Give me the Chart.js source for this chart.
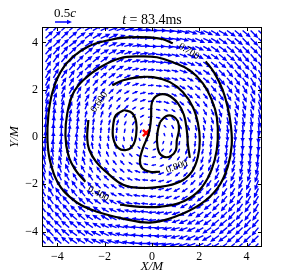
<!DOCTYPE html>
<html>
<head>
<meta charset="utf-8">
<script src="https://cdn.jsdelivr.net/npm/chart.js@4.4.1/dist/chart.umd.min.js"></script>
<style>
  html, body { margin: 0; padding: 0; background: #fff; }
</style>
</head>
<body>
<canvas id="chart" width="293" height="274"></canvas>
<script>
// arrow grid (units of M)
const gridX = [-4.5,-4.17,-3.83,-3.5,-3.17,-2.83,-2.5,-2.17,-1.83,-1.5,-1.17,-0.83,-0.5,-0.17,
               0.17,0.5,0.83,1.17,1.5,1.83,2.17,2.5,2.83,3.17,3.5,3.83,4.17,4.5];
const gridY = [4.5,4.17,3.83,3.5,3.17,2.83,2.5,2.17,1.83,1.5,1.17,0.83,0.5,0.17,
               -0.17,-0.5,-0.83,-1.17,-1.5,-1.83,-2.17,-2.5,-2.83,-3.17,-3.5,-3.83,-4.17,-4.5];

// arrow direction, degrees (0 = +X, 90 = +Y), row by row from the top
const arrowAngle = [
  [45,45,40,40,35,30,30,25,20,20,15,10,5,0,0,-5,-10,-15,-20,-20,-25,-30,-30,-35,-40,-40,-45,-45],
  [45,45,45,40,35,35,30,25,25,20,15,10,5,0,0,-5,-10,-15,-20,-25,-25,-30,-35,-35,-40,-45,-45,-45],
  [50,45,45,40,40,35,35,30,25,20,15,10,5,0,0,-5,-10,-15,-20,-25,-30,-35,-35,-40,-40,-45,-45,-50],
  [50,50,50,45,40,40,35,30,30,25,20,15,10,5,-5,-10,-15,-20,-25,-30,-30,-35,-40,-40,-45,-50,-50,-50],
  [55,55,50,50,45,40,40,35,30,25,20,15,10,5,-5,-10,-15,-20,-25,-30,-35,-40,-40,-45,-50,-50,-55,-55],
  [60,55,55,50,50,45,40,35,35,30,20,15,10,5,-5,-10,-15,-20,-30,-35,-35,-40,-45,-50,-50,-55,-55,-60],
  [60,60,55,55,50,50,45,40,35,30,25,20,10,5,-5,-10,-20,-25,-30,-35,-40,-45,-50,-50,-55,-55,-60,-60],
  [65,65,60,60,55,55,50,45,40,35,30,20,15,5,-5,-15,-20,-30,-35,-40,-45,-50,-55,-55,-60,-60,-65,-65],
  [70,65,65,60,60,55,55,50,45,40,30,25,15,5,-5,-15,-25,-30,-40,-45,-50,-55,-55,-60,-60,-65,-65,-70],
  [70,70,70,65,65,60,60,55,50,45,40,30,20,5,-5,-20,-30,-40,-45,-50,-55,-60,-60,-65,-65,-70,-70,-70],
  [75,75,75,70,70,70,65,60,60,50,45,35,25,10,-10,-25,-35,-45,-50,-60,-60,-65,-70,-70,-70,-75,-75,-75],
  [80,80,80,75,75,75,70,70,65,60,55,45,30,10,-10,-30,-45,-55,-60,-65,-70,-70,-75,-75,-75,-80,-80,-80],
  [85,85,85,80,80,80,80,75,75,70,65,60,45,20,-20,-45,-60,-65,-70,-75,-75,-80,-80,-80,-80,-85,-85,-85],
  [90,90,90,85,85,85,85,85,85,85,80,80,70,45,-45,-70,-80,-80,-85,-85,-85,-85,-85,-85,-85,-90,-90,-90],
  [90,90,90,95,95,95,95,95,95,95,100,100,110,135,-135,-110,-100,-100,-95,-95,-95,-95,-95,-95,-95,-90,-90,-90],
  [95,95,95,100,100,100,100,105,105,110,115,120,135,160,-160,-135,-120,-115,-110,-105,-105,-100,-100,-100,-100,-95,-95,-95],
  [100,100,100,105,105,105,110,110,115,120,125,135,150,170,-170,-150,-135,-125,-120,-115,-110,-110,-105,-105,-105,-100,-100,-100],
  [105,105,105,110,110,110,115,120,120,130,135,145,155,170,-170,-155,-145,-135,-130,-120,-120,-115,-110,-110,-110,-105,-105,-105],
  [110,110,110,115,115,120,120,125,130,135,140,150,160,175,-175,-160,-150,-140,-135,-130,-125,-120,-120,-115,-115,-110,-110,-110],
  [110,115,115,120,120,125,125,130,135,140,150,155,165,175,-175,-165,-155,-150,-140,-135,-130,-125,-125,-120,-120,-115,-115,-110],
  [115,115,120,120,125,125,130,135,140,145,150,160,165,175,-175,-165,-160,-150,-145,-140,-135,-130,-125,-125,-120,-120,-115,-115],
  [120,120,125,125,130,130,135,140,145,150,155,160,170,175,-175,-170,-160,-155,-150,-145,-140,-135,-130,-130,-125,-125,-120,-120],
  [120,125,125,130,130,135,140,145,145,150,160,165,170,175,-175,-170,-165,-160,-150,-145,-145,-140,-135,-130,-130,-125,-125,-120],
  [125,125,130,130,135,140,140,145,150,155,160,165,170,175,-175,-170,-165,-160,-155,-150,-145,-140,-140,-135,-130,-130,-125,-125],
  [130,130,130,135,140,140,145,150,150,155,160,165,170,175,-175,-170,-165,-160,-155,-150,-150,-145,-140,-140,-135,-130,-130,-130],
  [130,135,135,140,140,145,145,150,155,160,165,170,175,180,-180,-175,-170,-165,-160,-155,-150,-145,-145,-140,-140,-135,-135,-130],
  [135,135,135,140,145,145,150,155,155,160,165,170,175,180,-180,-175,-170,-165,-160,-155,-155,-150,-145,-145,-140,-135,-135,-135],
  [135,135,140,140,145,150,150,155,160,160,165,170,175,180,-180,-175,-170,-165,-160,-160,-155,-150,-150,-145,-140,-140,-135,-135]
];

// arrow speed, in units of 0.01c
const arrowSpeed = [
  [32,32,32,32,32,32,32,32,32,32,32,32,32,32,32,32,32,32,32,32,32,32,32,32,32,32,32,32],
  [32,32,32,32,32,32,32,32,32,29,29,29,29,29,29,29,29,29,29,32,32,32,32,32,32,32,32,32],
  [32,32,32,32,32,32,32,29,29,29,29,29,29,29,29,29,29,29,29,29,29,32,32,32,32,32,32,32],
  [32,32,32,32,32,32,29,29,29,29,26,26,26,26,26,26,26,26,29,29,29,29,32,32,32,32,32,32],
  [32,32,32,32,29,29,29,29,26,26,26,26,26,26,26,26,26,26,26,26,29,29,29,29,32,32,32,32],
  [32,32,32,32,29,29,29,26,26,26,26,22,22,22,22,22,22,26,26,26,26,29,29,29,32,32,32,32],
  [32,32,32,29,29,29,26,26,26,22,22,22,22,22,22,22,22,22,22,26,26,26,29,29,29,32,32,32],
  [32,32,29,29,29,26,26,26,22,22,22,22,19,19,19,19,22,22,22,22,26,26,26,29,29,29,32,32],
  [32,32,29,29,26,26,26,22,22,22,19,19,19,19,19,19,19,19,22,22,22,26,26,26,29,29,32,32],
  [32,29,29,29,26,26,22,22,22,19,19,19,19,19,19,19,19,19,19,22,22,22,26,26,29,29,29,32],
  [32,29,29,26,26,26,22,22,19,19,19,15,15,15,15,15,15,19,19,19,22,22,26,26,26,29,29,32],
  [32,29,29,26,26,22,22,22,19,19,15,15,15,15,15,15,15,15,19,19,22,22,22,26,26,29,29,32],
  [32,29,29,26,26,22,22,19,19,19,15,15,12,12,12,12,15,15,19,19,19,22,22,26,26,29,29,32],
  [32,29,29,26,26,22,22,19,19,19,15,15,12,12,12,12,15,15,19,19,19,22,22,26,26,29,29,32],
  [32,29,29,26,26,22,22,19,19,19,15,15,12,12,12,12,15,15,19,19,19,22,22,26,26,29,29,32],
  [32,29,29,26,26,22,22,19,19,19,15,15,12,12,12,12,15,15,19,19,19,22,22,26,26,29,29,32],
  [32,29,29,26,26,22,22,22,19,19,15,15,15,15,15,15,15,15,19,19,22,22,22,26,26,29,29,32],
  [32,29,29,26,26,26,22,22,19,19,19,15,15,15,15,15,15,19,19,19,22,22,26,26,26,29,29,32],
  [32,29,29,29,26,26,22,22,22,19,19,19,19,19,19,19,19,19,19,22,22,22,26,26,29,29,29,32],
  [32,32,29,29,26,26,26,22,22,22,19,19,19,19,19,19,19,19,22,22,22,26,26,26,29,29,32,32],
  [32,32,29,29,29,26,26,26,22,22,22,22,19,19,19,19,22,22,22,22,26,26,26,29,29,29,32,32],
  [32,32,32,29,29,29,26,26,26,22,22,22,22,22,22,22,22,22,22,26,26,26,29,29,29,32,32,32],
  [32,32,32,32,29,29,29,26,26,26,26,22,22,22,22,22,22,26,26,26,26,29,29,29,32,32,32,32],
  [32,32,32,32,29,29,29,29,26,26,26,26,26,26,26,26,26,26,26,26,29,29,29,29,32,32,32,32],
  [32,32,32,32,32,32,29,29,29,29,26,26,26,26,26,26,26,26,29,29,29,29,32,32,32,32,32,32],
  [32,32,32,32,32,32,32,29,29,29,29,29,29,29,29,29,29,29,29,29,29,32,32,32,32,32,32,32],
  [32,32,32,32,32,32,32,32,32,29,29,29,29,29,29,29,29,29,29,32,32,32,32,32,32,32,32,32],
  [32,32,32,32,32,32,32,32,32,32,32,32,32,32,32,32,32,32,32,32,32,32,32,32,32,32,32,32]
];

// contour lines, [X/M, Y/M]
const contourOuter = [[2.27,3.20],[2.65,2.69],[2.99,1.98],[3.20,1.26],[3.33,0.51],[3.37,-0.34],[3.20,-1.26],
  [2.78,-2.15],[2.02,-2.86],[0.97,-3.37],[-0.08,-3.62],[-1.22,-3.45],[-2.32,-3.16],[-3.16,-2.78],[-3.87,-2.11],
  [-4.29,-1.09],[-4.42,-0.13],[-4.38,0.93],[-4.21,1.89],[-3.87,2.74],[-3.37,3.37],[-2.69,3.83],[-1.89,4.08],
  [-1.05,4.21],[-0.08,4.21],[0.46,4.13],[0.88,3.96]];
const contourSecond = [[-1.35,-2.86],[-0.51,-2.95],[0.34,-2.95],[1.18,-2.78],[1.89,-2.36],[2.36,-1.73],[2.65,-0.97],
  [2.78,-0.13],[2.74,0.84],[2.53,1.56],[2.15,2.27],[1.6,2.82],[0.88,3.16],[0.21,3.37],[-0.51,3.41],[-1.35,3.33],
  [-2.19,2.95],[-2.91,2.4],[-3.33,1.85],[-3.58,1.01],[-3.66,0.08],[-3.54,-0.76],[-3.24,-1.39],[-2.82,-1.89]];
const contourThird = [[-1.68,2.19],[-1.22,2.4],[-0.51,2.53],[0.04,2.53],[0.76,2.32],[1.31,1.89],[1.73,1.26],
  [1.94,0.59],[2.02,-0.13],[1.94,-0.84],[1.68,-1.47],[1.18,-1.89],[0.34,-2.11],[-0.51,-2.15],[-1.22,-2.02],
  [-1.89,-1.52],[-2.36,-1.05],[-2.65,-0.55],[-2.74,-0.04],[-2.69,0.72]];
const contourInner = [[1.6,-0.88],[1.52,-0.34],[1.47,0.29],[1.35,0.93],[1.09,1.43],[0.67,1.77],[0.25,1.77],
  [0,1.47],[-0.04,0.8],[-0.13,0.17],[-0.38,-0.46],[-0.51,-0.97],[-0.42,-1.31],[-0.08,-1.47],[0.34,-1.47]];
const contourBean = [[0.34,0.63],[0.59,0.88],[0.88,0.88],[1.09,0.67],[1.14,0.29],[1.05,-0.13],[1.01,-0.55],
  [0.8,-0.80],[0.51,-0.84],[0.29,-0.63],[0.21,-0.13],[0.25,0.29],[0.34,0.63]];
const contourOval = [[-1.18,1.14],[-0.84,1.01],[-0.67,0.63],[-0.67,0.08],[-0.8,-0.34],[-1.09,-0.55],
  [-1.43,-0.46],[-1.64,-0.04],[-1.64,0.51],[-1.52,0.93],[-1.18,1.14]];

const labelText = ['0.700', '0.600', '0.400', '0.800'];
const labelSpot = [[1.56,3.62,32], [-2.23,1.47,-55], [-2.27,-2.4,28], [1.05,-1.26,-20]];

const centerMark = [-0.25, 0.17];
const tickValues = [-4, -2, 0, 2, 4];
const keySpeed = 50;   // 0.5c
const pxPerUnit = 0.34; // arrow pixels per 0.01c

const serif = '"Liberation Serif", "DejaVu Serif", serif';

const arrowPoints = [];
gridY.forEach((y, j) => {
  gridX.forEach((x, i) => {
    arrowPoints.push({x: x, y: y, ang: arrowAngle[j][i], spd: arrowSpeed[j][i]});
  });
});

function toXY(list) {
  return list.map(p => ({x: p[0], y: p[1]}));
}

function contourSet(list) {
  return {
    data: toXY(list),
    showLine: true,
    borderColor: '#000',
    borderWidth: 2.2,
    pointRadius: 0,
    tension: 0.4,
    fill: false
  };
}

function drawArrow(ctx, x0, y0, ang, len) {
  const hl = Math.min(5, len * 0.5);
  const hw = hl * 0.45;
  const sw = 0.7;
  ctx.save();
  ctx.translate(x0, y0);
  ctx.rotate(-ang * Math.PI / 180);
  ctx.beginPath();
  ctx.moveTo(0, -sw);
  ctx.lineTo(len - hl, -sw);
  ctx.lineTo(len - hl, -hw);
  ctx.lineTo(len, 0);
  ctx.lineTo(len - hl, hw);
  ctx.lineTo(len - hl, sw);
  ctx.lineTo(0, sw);
  ctx.closePath();
  ctx.fill();
  ctx.restore();
}

const overlay = {
  id: 'overlay',
  beforeDatasetsDraw(chart) {
    const ctx = chart.ctx;
    const area = chart.chartArea;
    const meta = chart.getDatasetMeta(0);
    const data = chart.data.datasets[0].data;
    ctx.save();
    ctx.beginPath();
    ctx.rect(area.left, area.top, area.right - area.left, area.bottom - area.top);
    ctx.clip();
    ctx.fillStyle = '#0000ff';
    meta.data.forEach((el, k) => {
      drawArrow(ctx, el.x, el.y, data[k].ang, data[k].spd * pxPerUnit);
    });
    ctx.restore();
  },
  afterDatasetsDraw(chart) {
    const ctx = chart.ctx;
    const area = chart.chartArea;
    const xs = chart.scales.x, ys = chart.scales.y;
    // contour labels
    ctx.save();
    ctx.fillStyle = '#000';
    ctx.font = '10px ' + serif;
    ctx.textAlign = 'center';
    ctx.textBaseline = 'middle';
    labelText.forEach((t, k) => {
      const s = labelSpot[k];
      ctx.save();
      ctx.translate(xs.getPixelForValue(s[0]), ys.getPixelForValue(s[1]));
      ctx.rotate(s[2] * Math.PI / 180);
      ctx.fillText(t, 0, 0);
      ctx.restore();
    });
    // frame and inward ticks
    ctx.strokeStyle = '#000';
    ctx.lineWidth = 1;
    ctx.strokeRect(area.left + 0.5, area.top + 0.5, area.right - area.left - 1, area.bottom - area.top - 1);
    ctx.beginPath();
    tickValues.forEach(v => {
      const px = Math.round(xs.getPixelForValue(v)) + 0.5;
      const py = Math.round(ys.getPixelForValue(v)) + 0.5;
      ctx.moveTo(px, area.bottom); ctx.lineTo(px, area.bottom - 4);
      ctx.moveTo(px, area.top); ctx.lineTo(px, area.top + 4);
      ctx.moveTo(area.left, py); ctx.lineTo(area.left + 4, py);
      ctx.moveTo(area.right, py); ctx.lineTo(area.right - 4, py);
    });
    ctx.stroke();
    ctx.restore();
  },
  afterDraw(chart) {
    const ctx = chart.ctx;
    ctx.save();
    ctx.fillStyle = '#000';
    ctx.textBaseline = 'alphabetic';
    // title: t = 83.4ms
    const p1 = 't', p2 = ' = 83.4ms';
    ctx.font = 'italic 14px ' + serif;
    const w1 = ctx.measureText(p1).width;
    ctx.font = '14px ' + serif;
    const w2 = ctx.measureText(p2).width;
    const cx = (chart.chartArea.left + chart.chartArea.right) / 2;
    let x = cx - (w1 + w2) / 2;
    ctx.font = 'italic 14px ' + serif;
    ctx.fillText(p1, x, 24);
    ctx.font = '14px ' + serif;
    ctx.fillText(p2, x + w1, 24);
    // key: 0.5c
    ctx.font = '13px ' + serif;
    const k1 = '0.5';
    const kw = ctx.measureText(k1).width;
    ctx.fillText(k1, 54, 17);
    ctx.font = 'italic 13px ' + serif;
    ctx.fillText('c', 54 + kw, 17);
    ctx.fillStyle = '#0000ff';
    drawArrow(ctx, 55, 22, 0, keySpeed * pxPerUnit);
    ctx.restore();
  }
};

function fmt(v) {
  return v < 0 ? '\u2212' + Math.abs(v) : String(v);
}

new Chart(document.getElementById('chart'), {
  type: 'scatter',
  data: {
    datasets: [
      {data: arrowPoints, pointRadius: 0, showLine: false},
      contourSet(contourOuter),
      contourSet(contourSecond),
      contourSet(contourThird),
      contourSet(contourInner),
      contourSet(contourBean),
      contourSet(contourOval),
      {
        data: [{x: centerMark[0], y: centerMark[1]}],
        pointStyle: 'crossRot',
        pointRadius: 4.5,
        borderColor: '#ff0000',
        borderWidth: 2.5
      }
    ]
  },
  options: {
    responsive: false,
    animation: false,
    devicePixelRatio: 1,
    events: [],
    layout: { padding: { top: 27, right: 31, left: 0, bottom: 0 } },
    plugins: { legend: { display: false }, tooltip: { enabled: false } },
    scales: {
      x: {
        type: 'linear', min: -4.65, max: 4.65,
        afterBuildTicks: s => { s.ticks = tickValues.map(v => ({value: v})); },
        afterFit: s => { s.height = 27; },
        grid: { display: false, drawTicks: false },
        border: { display: false },
        ticks: { color: '#000', padding: 3, maxRotation: 0, font: { family: serif, size: 12 }, callback: fmt },
        title: { display: true, text: 'X/M', color: '#000', padding: { top: 0, bottom: 0 },
                 font: { family: serif, size: 13, style: 'italic' } }
      },
      y: {
        type: 'linear', min: -4.65, max: 4.65,
        afterBuildTicks: s => { s.ticks = tickValues.map(v => ({value: v})); },
        afterFit: s => { s.width = 42; },
        grid: { display: false, drawTicks: false },
        border: { display: false },
        ticks: { color: '#000', padding: 4, font: { family: serif, size: 12 }, callback: fmt },
        title: { display: true, text: 'Y/M', color: '#000', padding: { top: 7, bottom: 0 },
                 font: { family: serif, size: 13, style: 'italic' } }
      }
    }
  },
  plugins: [overlay]
});
</script>
</body>
</html>
